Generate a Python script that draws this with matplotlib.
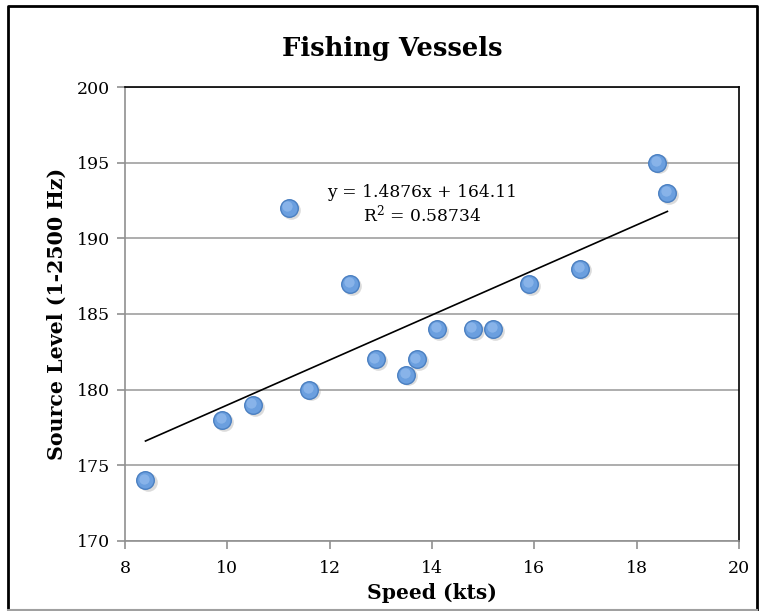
import matplotlib.pyplot as plt
from matplotlib.lines import Line2D
import numpy as np

# speed (kts) vs source level (dB, 1-2500 Hz)
speed = [8.4, 9.9, 10.5, 11.2, 11.6, 12.4, 12.9, 13.5, 13.7, 14.1, 14.8, 15.2, 15.9, 16.9, 18.4, 18.6]
level = [174, 178, 179, 192, 180, 187, 182, 181, 182, 184, 184, 184, 187, 188, 195, 193]

slope = 1.4876
intercept = 164.11
eq_text = "y = 1.4876x + 164.11\nR$^2$ = 0.58734"

xticks = [8, 10, 12, 14, 16, 18, 20]
yticks = [170, 175, 180, 185, 190, 195, 200]

plt.rcParams['font.family'] = ['DejaVu Serif']
plt.rcParams['mathtext.fontset'] = 'dejavuserif'

fig = plt.figure(figsize=(7.66, 6.11), dpi=100)
ax = fig.add_axes([0.1632, 0.1146, 0.8016, 0.743])

ax.set_xlim(8, 20)
ax.set_ylim(170, 200)
ax.set_xticks(xticks)
ax.set_yticks(yticks)

# gridlines
ax.grid(axis='y', color='#a0a0a0', linewidth=1.2)
ax.set_axisbelow(True)

# trendline
xs = np.array([min(speed), max(speed)])
ax.plot(xs, slope * xs + intercept, color='black', linewidth=1.2, zorder=2)

# points with a soft shadow
ax.scatter(np.array(speed) + 0.04, np.array(level) - 0.12, s=180, color='#9a9a9a',
           alpha=0.35, linewidths=0, zorder=3)
ax.scatter(speed, level, s=160, color='#6b9fdf', edgecolors='#4a7fc1',
           linewidths=1.0, zorder=4)
ax.scatter(np.array(speed) - 0.03, np.array(level) + 0.12, s=55, color='#9cc2f0',
           alpha=0.6, linewidths=0, zorder=5)

ax.text(13.8, 192.2, eq_text, ha='center', va='center', fontsize=12.3,
        linespacing=1.15, zorder=6)

for side in ['left', 'bottom']:
    ax.spines[side].set_color('#909090')
    ax.spines[side].set_linewidth(1.2)
for side in ['top', 'right']:
    ax.spines[side].set_color('black')
    ax.spines[side].set_linewidth(1.2)

ax.tick_params(axis='both', direction='out', length=6, width=1.2, color='#909090',
               labelsize=12.5)
ax.tick_params(axis='x', pad=8)
ax.tick_params(axis='y', pad=5)

fig.text(0.512, 0.908, 'Fishing Vessels', ha='center', va='baseline',
         fontsize=18.5, fontweight='bold')
ax.set_xlabel('Speed (kts)', fontsize=14.6, fontweight='bold', labelpad=4)
ax.set_ylabel('Source Level (1-2500 Hz)', fontsize=14.8, fontweight='bold', labelpad=7)

# outer border: black on three sides, grey along the bottom
fig.lines.append(Line2D([0.011, 0.011, 0.988, 0.988], [0.002, 0.99, 0.99, 0.002],
                        transform=fig.transFigure, color='black', linewidth=2.0))
fig.lines.append(Line2D([0.011, 0.988], [0.002, 0.002], transform=fig.transFigure,
                        color='#a0a0a0', linewidth=1.5))

fig.savefig('out.png', dpi=100)
